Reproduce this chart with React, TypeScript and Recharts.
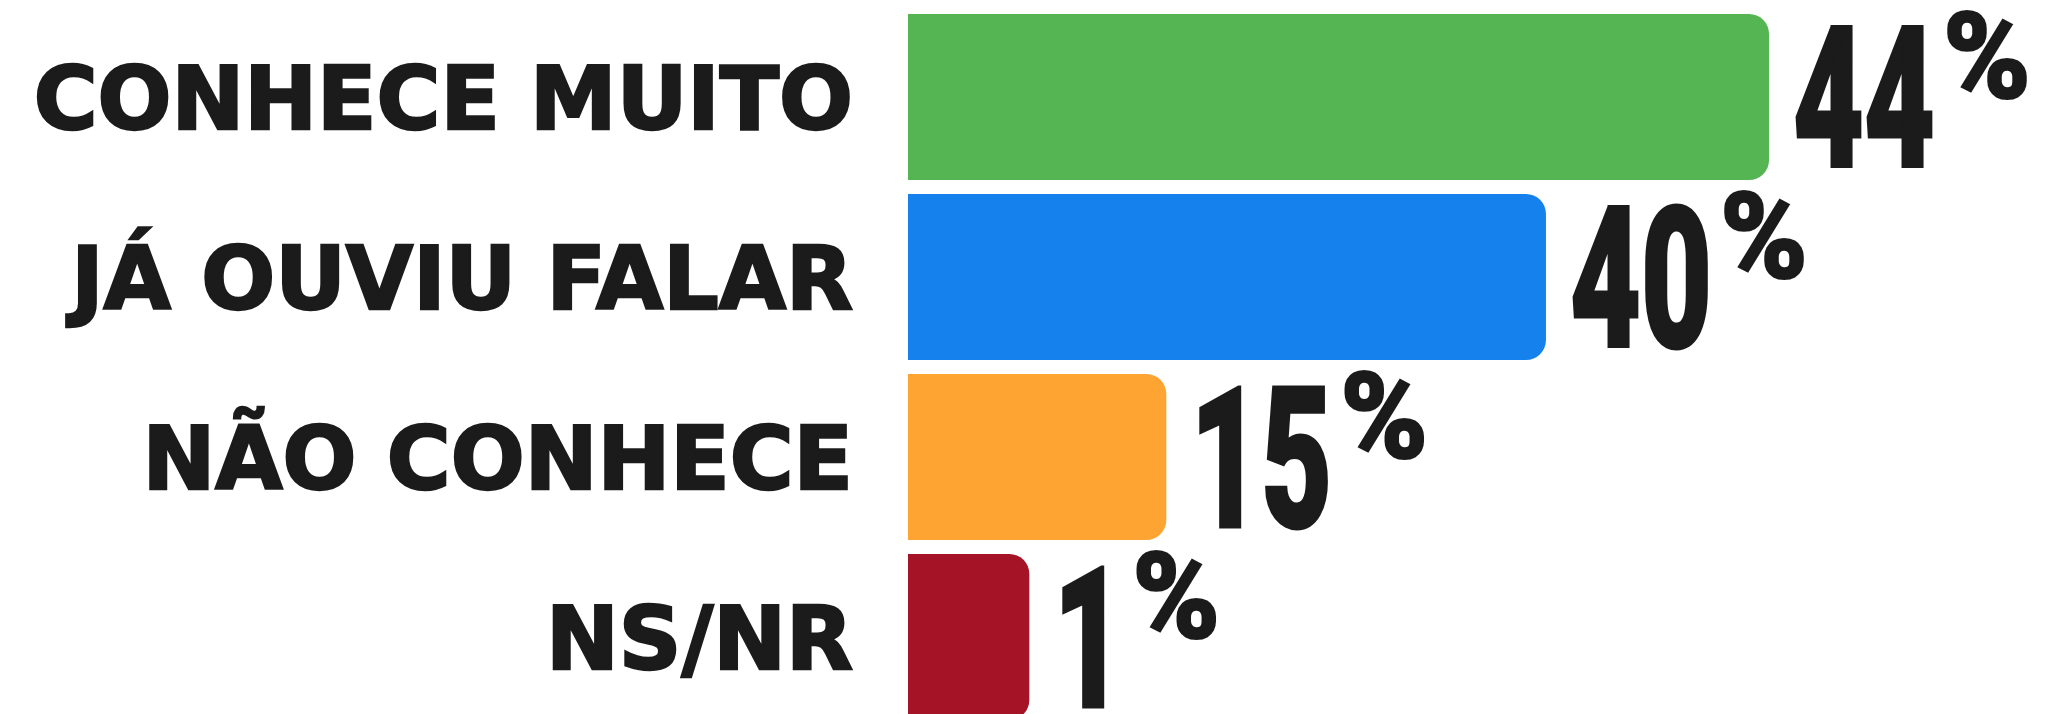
import { BarChart, Bar, XAxis, YAxis, Cell, LabelList } from "recharts";

const categories = ["CONHECE MUITO", "JÁ OUVIU FALAR", "NÃO CONHECE", "NS/NR"];
const percents = [44, 40, 15, 1];
// the original graphic doesn't draw its bars to scale, so these are the lengths as drawn
// (same units as the top bar, which is 44)
const drawnLengths = [44, 32.6, 13.2, 6.2];
const colors = ["#56b553", "#1581ec", "#fea432", "#a51326"];

const data = categories.map((name, i) => ({
  name,
  pct: percents[i],
  len: drawnLengths[i],
}));

const INK = "#1b1b1b";

function CategoryTick(props: any) {
  const { x, y, payload } = props;
  return (
    <text
      x={x}
      y={y}
      dy={32}
      textAnchor="end"
      fill={INK}
      stroke={INK}
      strokeWidth={2.5}
      fontSize={87}
      fontWeight="bold"
      fontFamily="'DejaVu Sans', sans-serif"
    >
      {payload.value}
    </text>
  );
}

function PctLabel(props: any) {
  const { x, y, width, height, index } = props;
  const txt = String(percents[index]);
  const left = x + width + 24;
  // condensed digits: squeeze Roboto to roughly 72px per digit
  const digitsW = txt.length * 71;
  return (
    <g>
      <text
        x={left}
        y={y + height / 2 + 70}
        textLength={digitsW}
        lengthAdjust="spacingAndGlyphs"
        fontFamily="Roboto, sans-serif"
        fontWeight={900}
        fontSize={196}
        fill={INK}
        stroke={INK}
        strokeWidth={3}
      >
        {txt}
      </text>
      <text
        x={left + digitsW + 8}
        y={y + 84}
        textLength={88}
        lengthAdjust="spacingAndGlyphs"
        fontFamily="Roboto, sans-serif"
        fontWeight={900}
        fontSize={120}
        fill={INK}
        stroke={INK}
        strokeWidth={2}
      >
        %
      </text>
    </g>
  );
}

export default function App() {
  return (
    <div style={{ width: 2052, height: 714, background: "#fff" }}>
      <style>{"body{margin:0;overflow:hidden}"}</style>
      <BarChart
        width={2052}
        height={714}
        data={data}
        layout="vertical"
        margin={{ top: 7, right: 9, bottom: -13, left: 0 }}
      >
        <XAxis type="number" domain={[0, 58]} hide />
        <YAxis
          type="category"
          dataKey="name"
          width={908}
          axisLine={false}
          tickLine={false}
          tickSize={0}
          tickMargin={55}
          tick={<CategoryTick />}
          interval={0}
        />
        <Bar dataKey="len" barSize={166} radius={[0, 20, 20, 0]} isAnimationActive={false}>
          {data.map((d, i) => (
            <Cell key={d.name} fill={colors[i]} />
          ))}
          <LabelList dataKey="pct" content={<PctLabel />} />
        </Bar>
      </BarChart>
    </div>
  );
}
